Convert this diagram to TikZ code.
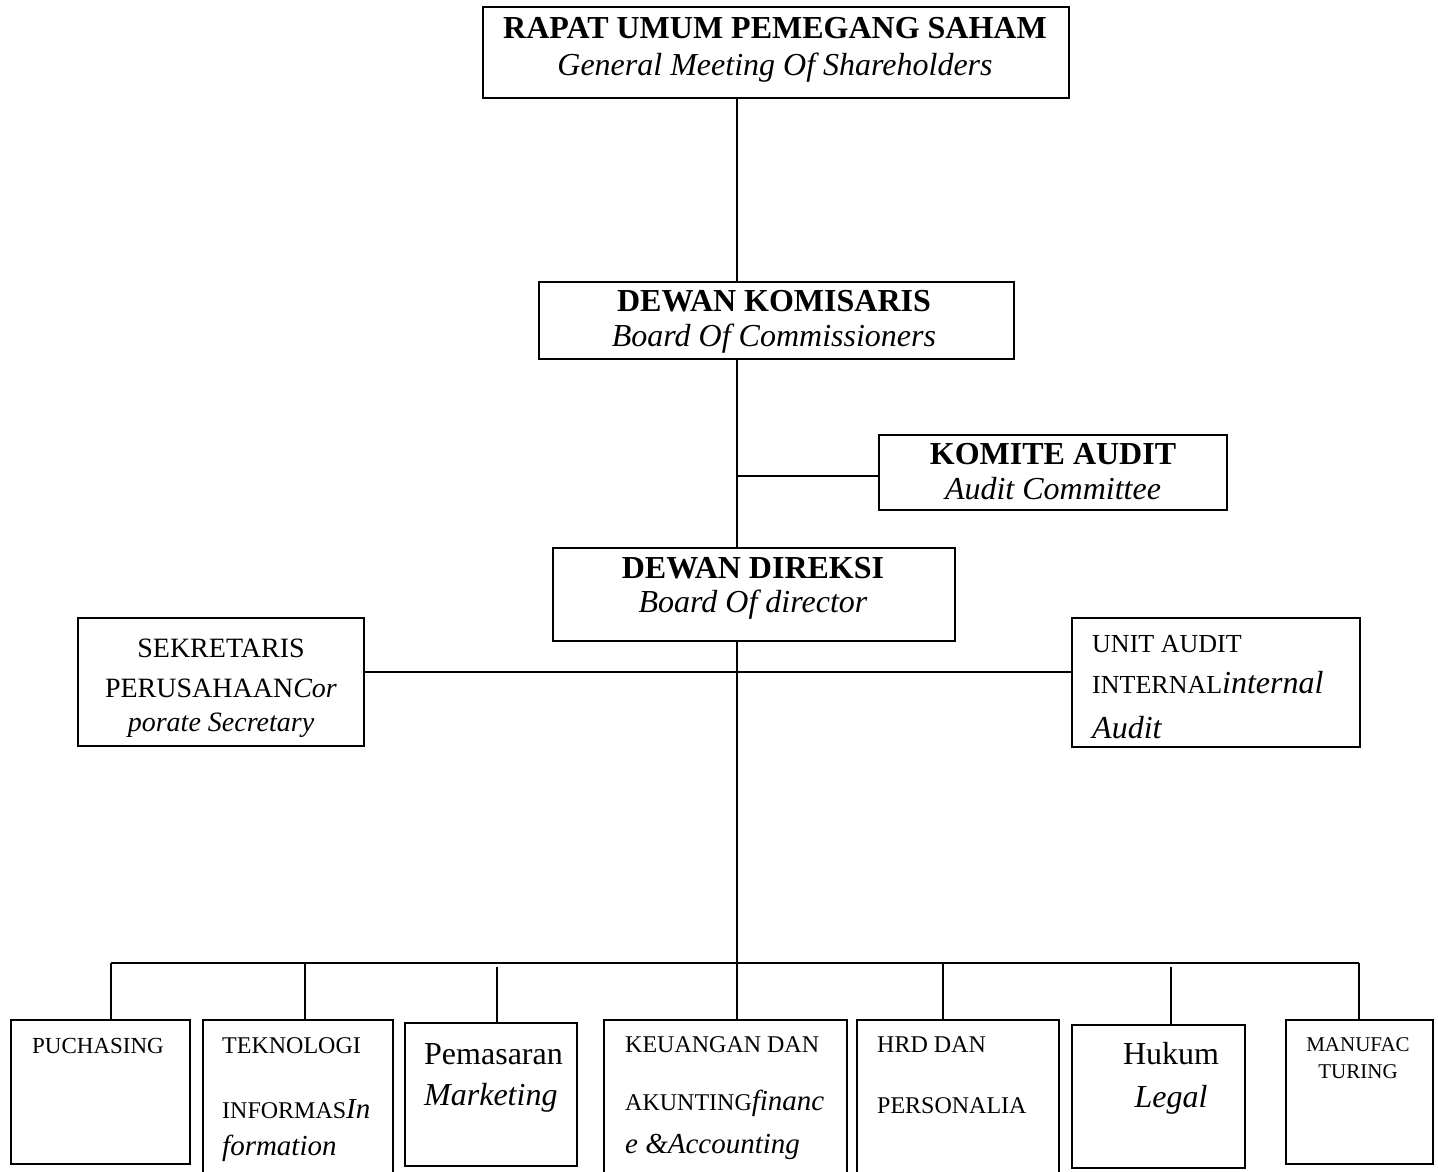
\documentclass[tikz,border=0pt]{standalone}
\usepackage{fontspec}
\setmainfont{Liberation Serif}
\newcommand\szT{\fontsize{32}{38}\selectfont}
\newcommand\szS{\fontsize{28}{33}\selectfont}
\newcommand\szU{\fontsize{26}{31}\selectfont}
\newcommand\szI{\fontsize{29}{34}\selectfont}
\newcommand\szB{\fontsize{24}{29}\selectfont}
\newcommand\szP{\fontsize{23}{28}\selectfont}
\newcommand\szM{\fontsize{21}{25}\selectfont}
\tikzset{
  orgbox/.style={draw, line width=1.6pt, inner sep=0pt, anchor=north west},
  txc/.style={inner sep=0pt, anchor=base},
  txl/.style={inner sep=0pt, anchor=base west},
  conn/.style={line width=1.6pt}
}
\begin{document}
\begin{tikzpicture}[x=1pt,y=-1pt]
\clip (0,0) rectangle (1438,1172);
\fill[white] (0,0) rectangle (1438,1172);
% boxes
\node[orgbox, minimum width=586pt, minimum height=91pt] (rups) at (482,6) {};
\node[orgbox, minimum width=475pt, minimum height=77pt] (dk) at (538,281) {};
\node[orgbox, minimum width=348pt, minimum height=75pt] (ka) at (878,434) {};
\node[orgbox, minimum width=402pt, minimum height=93pt] (dd) at (552,547) {};
\node[orgbox, minimum width=286pt, minimum height=128pt] (sek) at (77,617) {};
\node[orgbox, minimum width=288pt, minimum height=129pt] (ua) at (1071,617) {};
\node[orgbox, minimum width=179pt, minimum height=144pt] (puch) at (10,1019) {};
\node[orgbox, minimum width=190pt, minimum height=170pt] (tek) at (202,1019) {};
\node[orgbox, minimum width=172pt, minimum height=143pt] (pem) at (404,1022) {};
\node[orgbox, minimum width=243pt, minimum height=170pt] (keu) at (603,1019) {};
\node[orgbox, minimum width=202pt, minimum height=170pt] (hrd) at (856,1019) {};
\node[orgbox, minimum width=173pt, minimum height=143pt] (huk) at (1071,1024) {};
\node[orgbox, minimum width=147pt, minimum height=144pt] (man) at (1285,1019) {};
% texts
\node[txc] (t1) at (775,39) {\szT\bfseries RAPAT UMUM PEMEGANG SAHAM};
\node[txc] (t2) at (775,75) {\szT\itshape General Meeting Of Shareholders};
\node[txc] (t3) at (774,311) {\szT\bfseries DEWAN KOMISARIS};
\node[txc] (t4) at (774,346) {\szT\itshape Board Of Commissioners};
\node[txc] (t5) at (1053,464) {\szT\bfseries KOMITE AUDIT};
\node[txc] (t6) at (1053,499) {\szT\itshape Audit Committee};
\node[txc] (t7) at (753,578) {\szT\bfseries DEWAN DIREKSI};
\node[txc] (t8) at (753,612) {\szT\itshape Board Of director};
\node[txc] (s1) at (221,657) {\szS SEKRETARIS};
\node[txc] (s2) at (221,697) {\szS PERUSAHAAN\textit{Cor}};
\node[txc] (s3) at (221,731) {\szS\itshape porate Secretary};
\node[txl] (u1) at (1092,652) {\szU UNIT AUDIT};
\node[txl] (u2) at (1092,693) {\szU INTERNAL\szT\textit{internal}};
\node[txl] (u3) at (1092,738) {\szT\itshape Audit};
\node[txc] (p1) at (98,1053) {\szP PUCHASING};
\node[txl] (k1) at (222,1053) {\szB TEKNOLOGI};
\node[txl] (k2) at (222,1118) {\szB INFORMAS\szI\textit{In}};
\node[txl] (k3) at (222,1155) {\szI\itshape formation};
\node[txl] (m1) at (424,1064) {\szT Pemasaran};
\node[txl] (m2) at (424,1105) {\szT\itshape Marketing};
\node[txl] (f1) at (625,1052) {\szB KEUANGAN DAN};
\node[txl] (f2) at (625,1110) {\szB AKUNTING\szI\textit{financ}};
\node[txl] (f3) at (625,1153) {\szI\itshape e \&Accounting};
\node[txl] (h1) at (877,1052) {\szB HRD DAN};
\node[txl] (h2) at (877,1113) {\szB PERSONALIA};
\node[txc] (l1) at (1171,1064) {\szT Hukum};
\node[txc] (l2) at (1171,1107) {\szT\itshape Legal};
\node[txc] (n1) at (1358,1051) {\szM MANUFAC};
\node[txc] (n2) at (1358,1078) {\szM TURING};
% connectors
\coordinate (spine) at (737,0);
\coordinate (kl) at (737,476);
\coordinate (hl) at (737,672);
\coordinate (bar) at (737,963);
\coordinate (d1) at (111,963);
\coordinate (d2) at (305,963);
\coordinate (d3) at (497,967);
\coordinate (d4) at (737,963);
\coordinate (d5) at (943,963);
\coordinate (d6) at (1171,967);
\coordinate (d7) at (1359,963);
\draw[conn] (rups.south -| spine) -- (dk.north -| spine);
\draw[conn] (dk.south -| spine) -- (dd.north -| spine);
\draw[conn] (kl) -- (ka.west |- kl);
\draw[conn] (dd.south -| spine) -- (bar);
\draw[conn] (sek.east |- hl) -- (ua.west |- hl);
\draw[conn] (d1) -- (d7);
\draw[conn] (d1) -- (d1 |- puch.north);
\draw[conn] (d2) -- (d2 |- tek.north);
\draw[conn] (d3) -- (d3 |- pem.north);
\draw[conn] (d4) -- (d4 |- keu.north);
\draw[conn] (d5) -- (d5 |- hrd.north);
\draw[conn] (d6) -- (d6 |- huk.north);
\draw[conn] (d7) -- (d7 |- man.north);
\end{tikzpicture}
\end{document}
